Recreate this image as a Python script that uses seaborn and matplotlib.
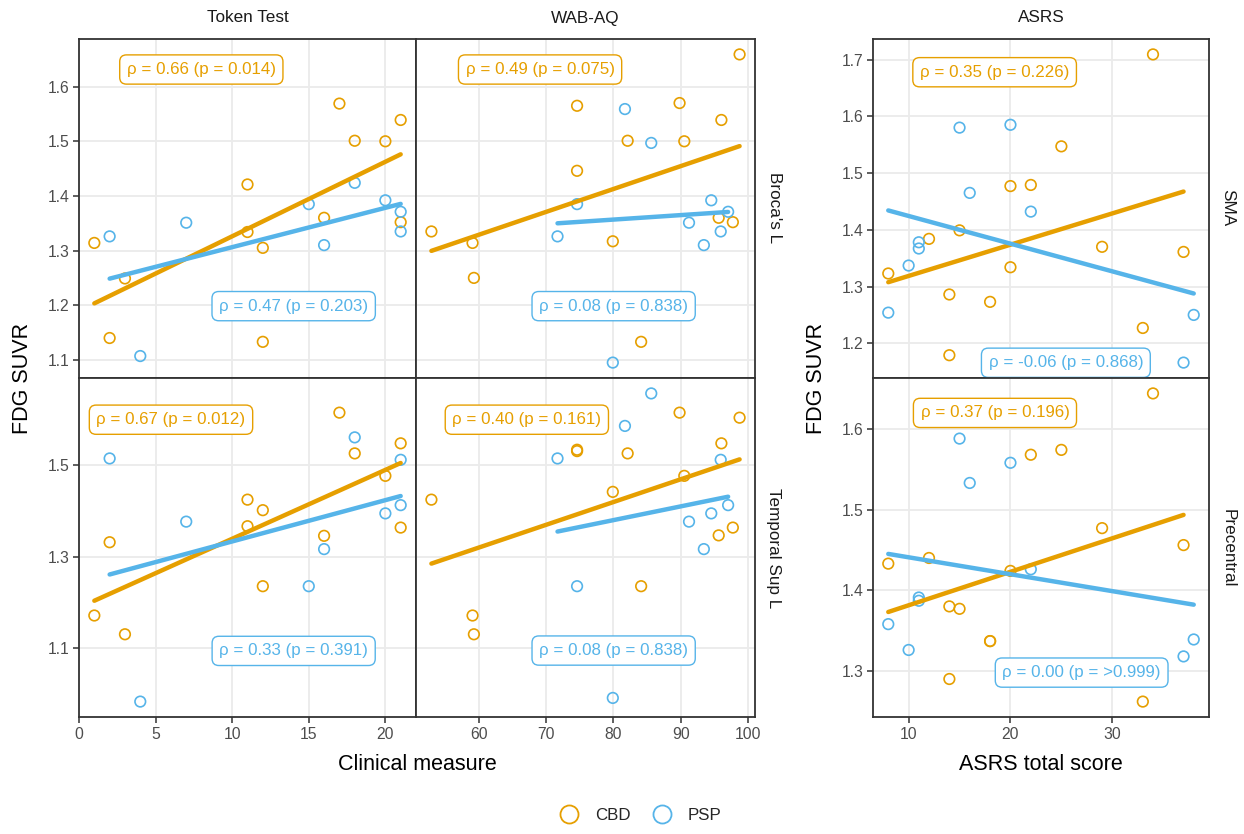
import matplotlib
matplotlib.use("Agg")
import matplotlib.pyplot as plt
from matplotlib.lines import Line2D
import seaborn as sns
import numpy as np

# --- data ---
# Token Test (x) vs FDG SUVR
tt_cbd_x = [1, 2, 3, 11, 11, 12, 12, 17, 18, 16, 20, 21, 21]
broca_tt_cbd = [1.314, 1.140, 1.249, 1.421, 1.334, 1.305, 1.133, 1.569, 1.501, 1.360, 1.500, 1.539, 1.352]
temp_tt_cbd = [1.172, 1.332, 1.131, 1.425, 1.367, 1.402, 1.236, 1.615, 1.526, 1.346, 1.477, 1.548, 1.364]
tt_psp_x = [2, 4, 7, 15, 16, 18, 20, 21, 21]
broca_tt_psp = [1.326, 1.107, 1.351, 1.385, 1.310, 1.424, 1.392, 1.371, 1.335]
temp_tt_psp = [1.515, 0.984, 1.377, 1.236, 1.317, 1.561, 1.395, 1.512, 1.413]

# WAB-AQ
wab_cbd_x = [53.0, 59.1, 59.3, 74.6, 74.6, 82.1, 79.9, 84.1, 89.8, 90.5, 96.0, 95.6, 97.7, 98.7]
broca_wab_cbd = [1.335, 1.314, 1.250, 1.565, 1.446, 1.501, 1.317, 1.133, 1.570, 1.500, 1.539, 1.360, 1.352, 1.659]
temp_wab_cbd = [1.425, 1.172, 1.131, 1.534, 1.531, 1.526, 1.442, 1.236, 1.615, 1.477, 1.548, 1.347, 1.364, 1.604]
wab_psp_x = [71.7, 74.6, 81.7, 85.6, 79.9, 91.2, 93.4, 94.5, 95.9, 97.0]
broca_wab_psp = [1.326, 1.385, 1.559, 1.497, 1.095, 1.351, 1.310, 1.392, 1.335, 1.371]
temp_wab_psp = [1.515, 1.236, 1.586, 1.657, 0.992, 1.377, 1.317, 1.395, 1.512, 1.413]

# ASRS total score
asrs_cbd_x = [8, 12, 14, 14, 15, 18, 20, 20, 22, 25, 29, 33, 34, 37]
sma_cbd = [1.323, 1.384, 1.286, 1.179, 1.399, 1.273, 1.477, 1.334, 1.479, 1.547, 1.370, 1.227, 1.709, 1.361]
prec_cbd_x = [8, 12, 14, 14, 15, 18, 18, 20, 22, 25, 29, 33, 34, 37]
prec_cbd = [1.433, 1.440, 1.380, 1.290, 1.377, 1.337, 1.337, 1.424, 1.568, 1.574, 1.477, 1.262, 1.644, 1.456]
asrs_psp_x = [8, 10, 11, 11, 15, 16, 20, 22, 37, 38]
sma_psp = [1.254, 1.337, 1.367, 1.378, 1.580, 1.465, 1.585, 1.432, 1.166, 1.250]
prec_psp = [1.358, 1.326, 1.391, 1.387, 1.588, 1.533, 1.558, 1.426, 1.318, 1.339]

# correlation labels (CBD, PSP) per panel
labels_cbd = {"tt_broca": "ρ = 0.66 (p = 0.014)", "wab_broca": "ρ = 0.49 (p = 0.075)",
              "tt_temp": "ρ = 0.67 (p = 0.012)", "wab_temp": "ρ = 0.40 (p = 0.161)",
              "sma": "ρ = 0.35 (p = 0.226)", "prec": "ρ = 0.37 (p = 0.196)"}
labels_psp = {"tt_broca": "ρ = 0.47 (p = 0.203)", "wab_broca": "ρ = 0.08 (p = 0.838)",
              "tt_temp": "ρ = 0.33 (p = 0.391)", "wab_temp": "ρ = 0.08 (p = 0.838)",
              "sma": "ρ = -0.06 (p = 0.868)", "prec": "ρ = 0.00 (p = >0.999)"}

tt_ticks = [0, 5, 10, 15, 20]
wab_ticks = [60, 70, 80, 90, 100]
asrs_ticks = [10, 20, 30]
broca_yticks = [1.1, 1.2, 1.3, 1.4, 1.5, 1.6]
temp_yticks = [1.1, 1.3, 1.5]
sma_yticks = [1.2, 1.3, 1.4, 1.5, 1.6, 1.7]
prec_yticks = [1.3, 1.4, 1.5, 1.6]

CBD_COL = "#E69F00"
PSP_COL = "#56B4E9"

sns.set_theme(style="white")
plt.rcParams["font.family"] = ["Liberation Sans", "DejaVu Sans"]

W, H = 1244, 834
fig = plt.figure(figsize=(W / 100, H / 100), dpi=100)


def px_axes(x0, x1, y0, y1):
    return fig.add_axes([x0 / W, 1 - y1 / H, (x1 - x0) / W, (y1 - y0) / H])


def lims(values):
    lo, hi = min(values), max(values)
    pad = 0.05 * (hi - lo)
    return lo - pad, hi + pad


def panel(ax, xc, yc, xp, yp, key, pos_c, pos_p, xlim, ylim, xticks, yticks,
          show_x, show_y):
    ax.set_axisbelow(True)
    ax.grid(True, color="#EBEBEB", lw=1.3)
    sns.scatterplot(x=xc, y=yc, ax=ax, s=58, facecolor="none", edgecolor=CBD_COL,
                    linewidth=1.2, zorder=3)
    sns.scatterplot(x=xp, y=yp, ax=ax, s=58, facecolor="none", edgecolor=PSP_COL,
                    linewidth=1.2, zorder=3)
    sns.regplot(x=np.array(xc), y=np.array(yc), ax=ax, scatter=False, ci=None,
                color=CBD_COL, line_kws={"lw": 3.2, "zorder": 4})
    sns.regplot(x=np.array(xp), y=np.array(yp), ax=ax, scatter=False, ci=None,
                color=PSP_COL, line_kws={"lw": 3.2, "zorder": 4})
    for txt, pos, col in [(labels_cbd[key], pos_c, CBD_COL), (labels_psp[key], pos_p, PSP_COL)]:
        ax.text(pos[0], pos[1], txt, transform=ax.transAxes, ha="center", va="center",
                fontsize=12.2, color=col, zorder=6,
                bbox=dict(boxstyle="round,pad=0.42,rounding_size=0.4", fc="white",
                          ec=col, lw=1.0))
    ax.set_xlim(*xlim)
    ax.set_ylim(*ylim)
    ax.set_xticks(xticks)
    ax.set_yticks(yticks)
    ax.set_xlabel("")
    ax.set_ylabel("")
    for sp in ax.spines.values():
        sp.set_color("#333333")
        sp.set_linewidth(1.3)
    ax.tick_params(axis="both", colors="#333333", labelcolor="#4D4D4D",
                   labelsize=11.3, length=4, width=1.1, pad=3)
    ax.tick_params(axis="x", bottom=show_x, labelbottom=show_x)
    ax.tick_params(axis="y", left=show_y, labelleft=show_y)
    if show_y:
        ax.set_yticklabels([f"{v:.1f}" for v in yticks])


broca_lim = lims(broca_tt_cbd + broca_tt_psp + broca_wab_cbd + broca_wab_psp)
temp_lim = lims(temp_tt_cbd + temp_tt_psp + temp_wab_cbd + temp_wab_psp)
tt_lim = lims(tt_cbd_x + tt_psp_x)
wab_lim = lims(wab_cbd_x + wab_psp_x)
asrs_lim = lims(asrs_cbd_x + asrs_psp_x)

ax = px_axes(79, 416, 39, 378)
panel(ax, tt_cbd_x, broca_tt_cbd, tt_psp_x, broca_tt_psp, "tt_broca",
      (0.363, 0.91), (0.637, 0.212), tt_lim, broca_lim, tt_ticks, broca_yticks, False, True)
ax = px_axes(416, 755, 39, 378)
panel(ax, wab_cbd_x, broca_wab_cbd, wab_psp_x, broca_wab_psp, "wab_broca",
      (0.366, 0.91), (0.583, 0.212), wab_lim, broca_lim, wab_ticks, broca_yticks, False, False)
ax = px_axes(79, 416, 378, 717)
panel(ax, tt_cbd_x, temp_tt_cbd, tt_psp_x, temp_tt_psp, "tt_temp",
      (0.273, 0.877), (0.637, 0.195), tt_lim, temp_lim, tt_ticks, temp_yticks, True, True)
ax = px_axes(416, 755, 378, 717)
panel(ax, wab_cbd_x, temp_wab_cbd, wab_psp_x, temp_wab_psp, "wab_temp",
      (0.327, 0.877), (0.583, 0.196), wab_lim, temp_lim, wab_ticks, temp_yticks, True, False)
ax = px_axes(873, 1209, 39, 378)
panel(ax, asrs_cbd_x, sma_cbd, asrs_psp_x, sma_psp, "sma",
      (0.362, 0.902), (0.574, 0.045), asrs_lim, lims(sma_cbd + sma_psp), asrs_ticks,
      sma_yticks, False, True)
ax = px_axes(873, 1209, 378, 717)
panel(ax, prec_cbd_x, prec_cbd, asrs_psp_x, prec_psp, "prec",
      (0.363, 0.897), (0.621, 0.131), asrs_lim, lims(prec_cbd + prec_psp), asrs_ticks,
      prec_yticks, True, True)


def ftext(x, y, s, **kw):
    fig.text(x / W, 1 - y / H, s, ha="center", va="center", **kw)


strip_kw = dict(fontsize=12.3, color="#1A1A1A")
ftext(247.5, 18, "Token Test", **strip_kw)
ftext(585.5, 18, "WAB-AQ", **strip_kw)
ftext(1041, 18, "ASRS", **strip_kw)
ftext(774, 208, "Broca's L", rotation=-90, **strip_kw)
ftext(774, 548, "Temporal Sup L", rotation=-90, **strip_kw)
ftext(1228, 208, "SMA", rotation=-90, **strip_kw)
ftext(1228, 548, "Precentral", rotation=-90, **strip_kw)

title_kw = dict(fontsize=15.5, color="black")
ftext(22.5, 378, "FDG SUVR", rotation=90, **title_kw)
ftext(816, 378, "FDG SUVR", rotation=90, **title_kw)
ftext(417, 765, "Clinical measure", **title_kw)
ftext(1041, 765, "ASRS total score", **title_kw)

handles = [Line2D([], [], ls="none", marker="o", ms=13, mfc="none", mec=c, mew=1.3)
           for c in (CBD_COL, PSP_COL)]
fig.legend(handles, ["CBD", "PSP"], loc="center", bbox_to_anchor=(0.512, 1 - 815 / H),
           ncol=2, frameon=False, fontsize=12.2, handletextpad=0.5, columnspacing=0.9)

fig.savefig("out.png", dpi=100, facecolor="white")
